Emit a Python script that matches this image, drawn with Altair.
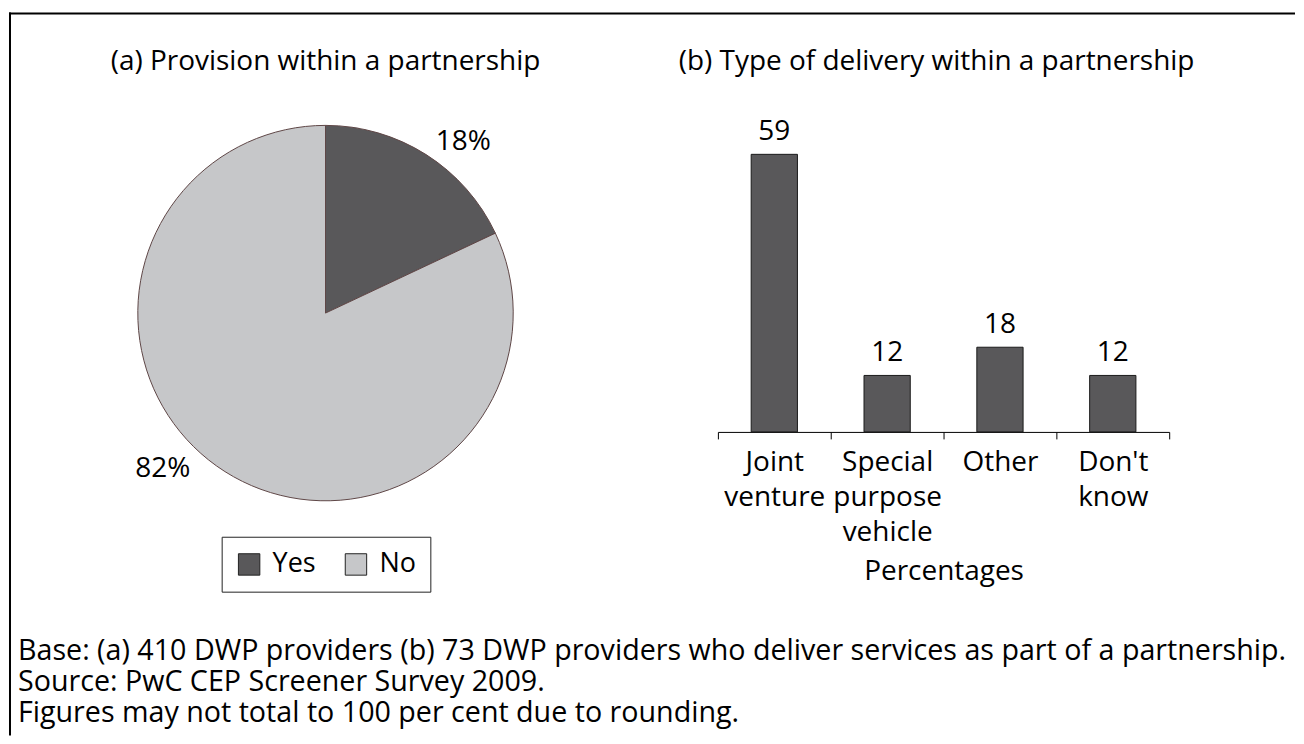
import altair as alt
import pandas as pd

# ---- data ----
pie_cats = ["Yes", "No"]
pie_vals = [18, 82]
pie_colors = ["#59585a", "#c6c7c9"]

bar_cats = ["Joint venture", "Special purpose vehicle", "Other", "Don't know"]
bar_vals = [59, 12, 18, 12]

title_a = "(a) Provision within a partnership"
title_b = "(b) Type of delivery within a partnership"
x_title = "Percentages"
notes = [
    "Base: (a) 410 DWP providers (b) 73 DWP providers who deliver services as part of a partnership.",
    "Source: PwC CEP Screener Survey 2009.",
    "Figures may not total to 100 per cent due to rounding.",
]

FONT = "Open Sans"
FS = 28
W, H = 1288, 728
CX, CY, R = 317, 305, 188

pie_df = pd.DataFrame({"cat": pie_cats, "value": pie_vals, "idx": list(range(len(pie_cats)))})
bar_df = pd.DataFrame({"cat": bar_cats, "value": bar_vals})
one = pd.DataFrame({"k": [0]})

total = sum(pie_vals)
theta_scale = alt.Scale(domain=[0, total])

# ---- frame (top and left edges) ----
border_top = alt.Chart(one).mark_rule(color="black", strokeWidth=2).encode(
    x=alt.value(0), x2=alt.value(W), y=alt.value(5))
border_left = alt.Chart(one).mark_rule(color="black", strokeWidth=2).encode(
    x=alt.value(1), y=alt.value(4), y2=alt.value(H))

# ---- pie ----
pie = alt.Chart(pie_df).mark_arc(outerRadius=R, stroke="#5e4646", strokeWidth=1).encode(
    theta=alt.Theta("value:Q", stack=True, scale=theta_scale),
    order=alt.Order("idx:Q"),
    color=alt.Color(
        "cat:N",
        scale=alt.Scale(domain=pie_cats, range=pie_colors),
        legend=alt.Legend(
            title=None, orient="none", legendX=213, legendY=529,
            direction="horizontal", symbolType="square", symbolSize=460,
            symbolStrokeColor="#222222", symbolStrokeWidth=1,
            labelFontSize=27, labelFont=FONT, labelColor="black",
            strokeColor="#222222", fillColor="white", padding=14,
            columnPadding=26, labelOffset=10,
        ),
    ),
    x=alt.value(CX), y=alt.value(CY),
)

lbl_base = alt.Chart(pie_df).transform_window(
    cum="sum(value)", sort=[alt.SortField("idx")], frame=[None, 0]
).transform_calculate(mid="datum.cum - datum.value / 2", label="datum.value + '%'")

def pie_label(i, dx, dy):
    return lbl_base.transform_filter(f"datum.idx == {i}").mark_text(
        radius=222, dx=dx, dy=dy, fontSize=FS, font=FONT, color="black",
        align="center", baseline="middle",
    ).encode(
        theta=alt.Theta("mid:Q", stack=False, scale=theta_scale),
        text="label:N", x=alt.value(CX), y=alt.value(CY),
    )

lbl_yes = pie_label(0, 19, 16)
lbl_no = pie_label(1, -44, -31)

# ---- bars ----
xs = alt.X(
    "cat:N", sort=bar_cats,
    scale=alt.Scale(domain=bar_cats, range=[710, 1162], paddingInner=0, paddingOuter=0),
    axis=alt.Axis(
        title=x_title, orient="bottom", offset=-304, grid=False,
        domainColor="black", domainWidth=1, tickColor="black", tickWidth=1,
        tickSize=7, tickBand="extent", labelAngle=0, labelOverlap=False,
        labelFontSize=FS, labelFont=FONT, labelColor="black", labelLineHeight=35,
        labelExpr="split(datum.label, ' ')", labelPadding=10, labelBaseline="top",
        titleFontSize=FS, titleFont=FONT, titleFontWeight="normal",
        titleColor="black", titlePadding=11,
    ),
)
ys = alt.Y("value:Q", scale=alt.Scale(domain=[0, max(bar_vals)], range=[424, 146]), axis=None)

bars = alt.Chart(bar_df).mark_bar(
    width=alt.RelativeBandSize(0.41), fill="#59585a", stroke="#1a1a1a", strokeWidth=1
).encode(x=xs, y=ys)

bar_text = alt.Chart(bar_df).mark_text(
    baseline="alphabetic", dy=-14, fontSize=FS, font=FONT, color="black"
).encode(x=xs, y=ys, text="value:Q")

# ---- titles ----
def title(t, x):
    return alt.Chart(one).mark_text(
        text=t, fontSize=FS, font=FONT, color="black", align="center", baseline="middle"
    ).encode(x=alt.value(x), y=alt.value(54))

t_a = title(title_a, 317)
t_b = title(title_b, 929)

# ---- footnote ----
foot = alt.Chart(one).mark_text(
    fontSize=28.7, font=FONT, color="black", align="left", baseline="middle", lineHeight=31.5
).encode(x=alt.value(9), y=alt.value(643), text=alt.value(notes))

chart = alt.layer(
    border_top, border_left, pie, lbl_yes, lbl_no, bars, bar_text, t_a, t_b, foot
).properties(width=W, height=H, padding=0, background="white").configure_view(strokeWidth=0)

chart.save("out.html", embed_options={"renderer": "svg", "actions": False})
